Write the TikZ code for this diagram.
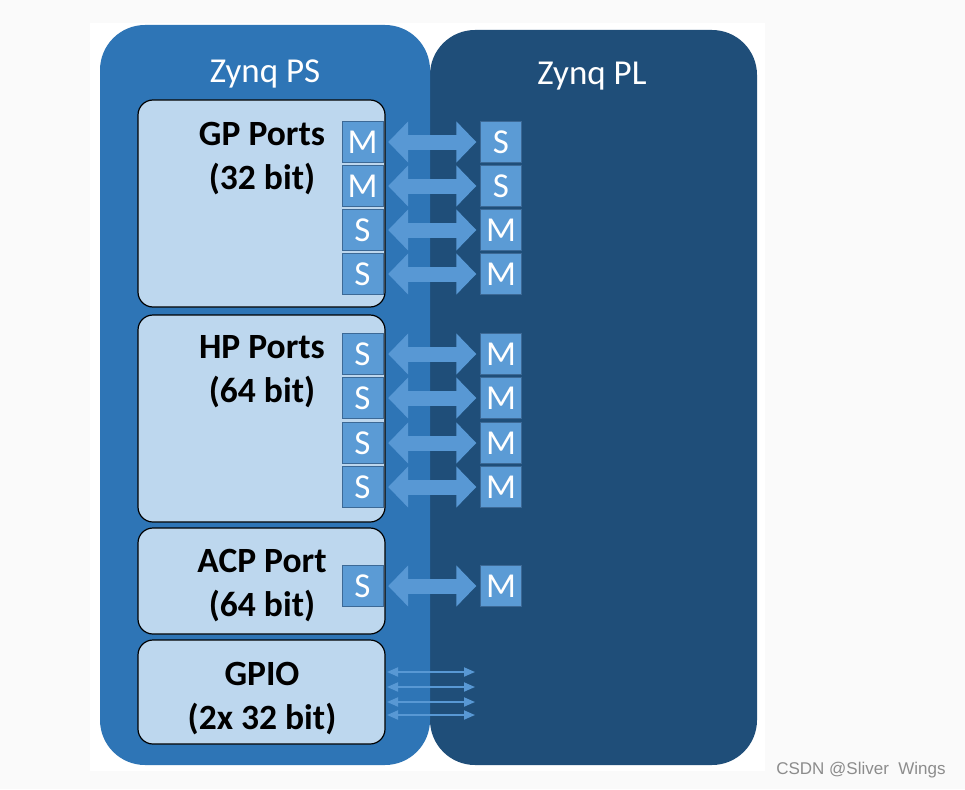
\documentclass[tikz,border=0pt]{standalone}
\usepackage{fontspec}
\setmainfont{Carlito}
\newfontfamily\markfont{Liberation Sans}
\usetikzlibrary{arrows.meta}

\definecolor{psblue}{RGB}{46,117,182}
\definecolor{plblue}{RGB}{31,78,121}
\definecolor{boxblue}{RGB}{189,215,238}
\definecolor{portblue}{RGB}{91,155,213}
\definecolor{portedge}{RGB}{60,105,150}
\definecolor{busblue}{RGB}{88,152,212}
\definecolor{pagegray}{RGB}{250,250,250}

\begin{document}
\begin{tikzpicture}[
    x = 1pt, y = -1pt,
    every node/.style = {inner sep = 0pt},
    side/.style = {rounded corners = 45pt},
    block/.style = {draw = black, line width = 1.2pt, fill = boxblue, rounded corners = 15pt},
    blocktext/.style = {align = center, font = \bfseries\fontsize{35.5}{44}\selectfont},
    title/.style = {text = white, font = \fontsize{35}{35}\selectfont},
    port/.style = {draw = portedge, fill = portblue, minimum size = 41pt, text = white,
                   font = \fontsize{35}{35}\selectfont},
    bus/.style = {busblue, line width = 15pt, shorten <= 5pt, shorten >= 4pt,
                  {Triangle[width = 40pt, length = 20pt]}-{Triangle[width = 40pt, length = 20pt]}},
    wire/.style = {busblue, line width = 1.8pt,
                   {Triangle[width = 9pt, length = 11pt]}-{Triangle[width = 9pt, length = 11pt]}}]

% page and the two halves
\fill[pagegray] (0,0) rectangle (965,789);
\fill[white] (90,23) rectangle (765,771);
\fill[plblue, side] (430,30) rectangle (757,765);
\fill[psblue, side] (100,25) rectangle (430,765);
\node[title] (ps) at (265,74) {Zynq PS};
\node[title] (pl) at (592,76) {Zynq PL};

% blocks on the PS side
\draw[block] (138,100) rectangle (385,307);
\draw[block] (138,315) rectangle (385,522);
\draw[block] (138,528) rectangle (385,634);
\draw[block] (138,640) rectangle (385,744);
\node[blocktext] (gp) at (262,159) {GP Ports\\(32 bit)};
\node[blocktext] (hp) at (262,372) {HP Ports\\(64 bit)};
\node[blocktext] (acp) at (262,586) {ACP Port\\(64 bit)};
\node[blocktext] (gpio) at (262,699) {GPIO\\(2x 32 bit)};

% ports, PS side
\node[port] (gpm1) at (362.5,142) {M};
\node[port] (gpm2) at (362.5,186) {M};
\node[port] (gps1) at (362.5,230) {S};
\node[port] (gps2) at (362.5,274) {S};
\node[port] (hps1) at (362.5,354) {S};
\node[port] (hps2) at (362.5,398) {S};
\node[port] (hps3) at (362.5,443) {S};
\node[port] (hps4) at (362.5,487) {S};
\node[port] (acps) at (362.5,586) {S};

% ports, PL side
\node[port] (pls1) at (501,142) {S};
\node[port] (pls2) at (501,186) {S};
\node[port] (plm1) at (501,230) {M};
\node[port] (plm2) at (501,274) {M};
\node[port] (plm3) at (501,354) {M};
\node[port] (plm4) at (501,398) {M};
\node[port] (plm5) at (501,443) {M};
\node[port] (plm6) at (501,487) {M};
\node[port] (plm7) at (501,586) {M};

% buses
\draw[bus] (gpm1) -- (pls1);
\draw[bus] (gpm2) -- (pls2);
\draw[bus] (gps1) -- (plm1);
\draw[bus] (gps2) -- (plm2);
\draw[bus] (hps1) -- (plm3);
\draw[bus] (hps2) -- (plm4);
\draw[bus] (hps3) -- (plm5);
\draw[bus] (hps4) -- (plm6);
\draw[bus] (acps) -- (plm7);

% gpio lines
\coordinate (io1) at (387,672);  \coordinate (io1e) at (475,672);
\coordinate (io2) at (387,687);  \coordinate (io2e) at (475,687);
\coordinate (io3) at (387,702);  \coordinate (io3e) at (475,702);
\coordinate (io4) at (387,715);  \coordinate (io4e) at (475,715);
\draw[wire] (io1) -- (io1e);
\draw[wire] (io2) -- (io2e);
\draw[wire] (io3) -- (io3e);
\draw[wire] (io4) -- (io4e);

\node[text = black!45, font = \markfont\fontsize{17}{17}\selectfont] (mark) at (861,770) {CSDN @Sliver\ \ Wings};
\end{tikzpicture}
\end{document}
